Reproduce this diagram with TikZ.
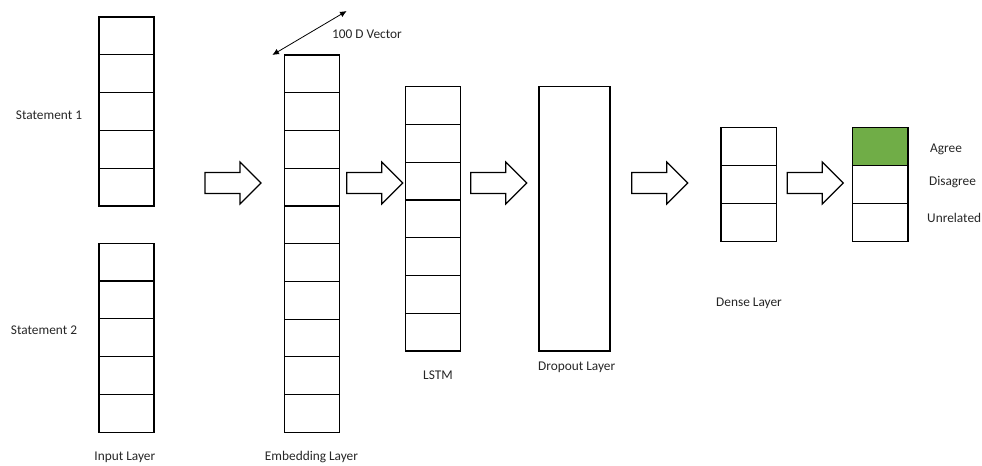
\documentclass[tikz,border=0pt]{standalone}
\usepackage{fontspec}
\setmainfont{Carlito}
\usetikzlibrary{calc,arrows.meta}

\definecolor{agreegreen}{HTML}{70AD47}
\definecolor{txt}{HTML}{262626}

\tikzset{
  layercol/.style={draw=black, line width=0.9pt, inner sep=0pt, outer sep=0pt, fill=white},
  lbl/.style={font=\fontsize{10pt}{12pt}\selectfont, text=txt, inner sep=0pt},
  blockarrow/.pic={
    \draw[line width=0.9pt, fill=white]
      (0,-10.5) -- (35,-10.5) -- (35,-21) -- (56,0) -- (35,21) -- (35,10.5) -- (0,10.5) -- cycle;
  }
}

% splits a column node into n equal cells
\newcommand{\cellrows}[2]{%
  \foreach \k in {1,...,\numexpr#2-1\relax}{
    \draw[line width=0.9pt] ($(#1.north west)!\k/#2!(#1.south west)$) -- ($(#1.north east)!\k/#2!(#1.south east)$);
  }%
}

\begin{document}
\begin{tikzpicture}[x=0.75pt, y=-0.75pt]
  \useasboundingbox (0,0) rectangle (982,466);

  % layer columns
  \node[layercol, minimum width=41.25pt, minimum height=141.75pt] (in1) at (126.5,111.5) {};
  \node[layercol, minimum width=41.25pt, minimum height=141.75pt] (in2) at (126.5,337.8) {};
  \node[layercol, minimum width=41.5pt, minimum height=283pt] (emb) at (312,243.7) {};
  \node[layercol, minimum width=41.25pt, minimum height=198.2pt] (lstm) at (433.2,218.85) {};
  \node[layercol, minimum width=53.25pt, minimum height=198.2pt] (drop) at (574.5,218.85) {};
  \node[layercol, minimum width=41.75pt, minimum height=85.2pt] (dense) at (748.85,184.5) {};
  \node[layercol, minimum width=41.5pt, minimum height=85.2pt] (out) at (880.35,184.5) {};

  % highlighted output class
  \fill[agreegreen] (out.north west) rectangle ($(out.north east)!1/3!(out.south east)$);
  \draw[line width=0.9pt] (out.north west) rectangle (out.south east);

  \cellrows{in1}{5}
  \cellrows{in2}{5}
  \cellrows{emb}{10}
  \cellrows{lstm}{7}
  \cellrows{dense}{3}
  \cellrows{out}{3}

  % block arrows between layers
  \pic (a1) at (205,183) {blockarrow};
  \pic (a2) at (346.7,183) {blockarrow};
  \pic (a3) at (470.7,183) {blockarrow};
  \pic (a4) at (631.7,183) {blockarrow};
  \pic (a5) at (787.3,183) {blockarrow};

  % embedding dimension marker
  \coordinate (v0) at (272.3,55);
  \coordinate (v1) at (346.7,11);
  \draw[line width=0.6pt, {Latex[length=5pt,width=4.5pt]}-{Latex[length=5pt,width=4.5pt]}] (v0) -- (v1);
  \node[lbl] (vec) at (367,34) {100 D Vector};

  % labels
  \node[lbl] (s1) at (49,115) {Statement 1};
  \node[lbl] (s2) at (44,330) {Statement 2};
  \node[lbl] (linput) at (124.8,457) {Input Layer};
  \node[lbl] (lemb) at (311.5,457) {Embedding Layer};
  \node[lbl] (llstm) at (438,375) {LSTM};
  \node[lbl] (ldrop) at (576.7,367.3) {Dropout Layer};
  \node[lbl] (ldense) at (749,303.3) {Dense Layer};
  \node[lbl] (lagree) at (946,149) {Agree};
  \node[lbl] (ldis) at (952.5,182.3) {Disagree};
  \node[lbl] (lunrel) at (954.2,218.3) {Unrelated};
\end{tikzpicture}
\end{document}
